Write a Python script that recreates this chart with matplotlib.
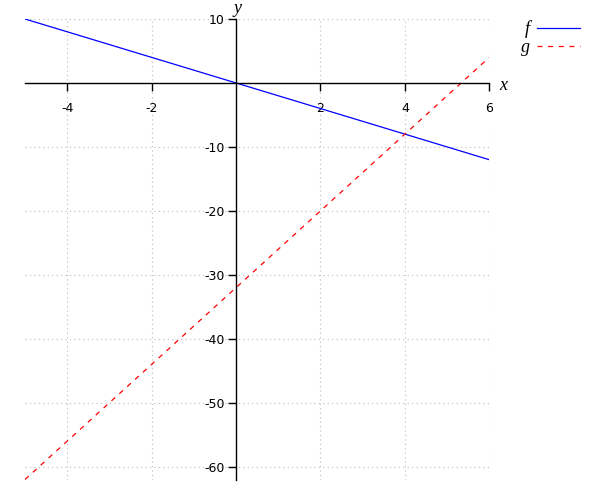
import matplotlib
matplotlib.use("Agg")
import matplotlib.pyplot as plt
from matplotlib.lines import Line2D

x_pts = [-5, 6]
f_vals = [10, -12]
g_vals = [-62, 4]
x_ticks = [-4, -2, 2, 4, 6]
y_ticks = [10, -10, -20, -30, -40, -50, -60]
series_names = ["f", "g"]

W, H = 600, 500
fig = plt.figure(figsize=(6, 5), dpi=100)
left, right, top, bottom = 25, 489.3, 19, 479.5
ax = fig.add_axes([left / W, 1 - bottom / H, (right - left) / W, (bottom - top) / H])

colors = ["#0000ff", "#ff0000"]
dash = (4, 4.5)
ax.plot(x_pts, f_vals, color=colors[0], lw=0.9, label=series_names[0])
ax.plot(x_pts, g_vals, color=colors[1], lw=0.9, dashes=dash, label=series_names[1])

ax.set_xlim(-5, 6)
ax.set_ylim(-62, 10)
ax.spines["left"].set_position(("data", 0))
ax.spines["bottom"].set_position(("data", 0))
ax.spines["top"].set_visible(False)
ax.spines["right"].set_visible(False)
for s in ("left", "bottom"):
    ax.spines[s].set_linewidth(1.0)
    ax.spines[s].set_color("black")
ax.set_xticks(x_ticks)
ax.set_yticks(y_ticks)
ax.set_xticklabels([str(v) for v in x_ticks])
ax.set_yticklabels([str(v) for v in y_ticks])
ax.tick_params(direction="out", length=6, width=1, labelsize=9, colors="black")
ax.tick_params(axis="x", pad=8)
ax.tick_params(axis="y", pad=2)
ax.grid(True, color="#bbbbbb", linestyle=(0, (1, 3)), linewidth=0.8)
ax.set_axisbelow(True)
for sp in ax.spines.values():
    sp.set_zorder(3)

serif = dict(family="Liberation Serif", style="italic", size=13)
fig.text(499 / W, 1 - 85 / H, "x", ha="left", va="center", **serif)
fig.text(237 / W, 1.0, "y", ha="center", va="top", **serif)

# legend drawn manually: label then line sample
rows_y = [29, 47]
styles = [dict(), dict(dashes=dash)]
for name, c, yy, st in zip(series_names, colors, rows_y, styles):
    fig.text(530 / W, 1 - yy / H, name, ha="right", va="center", **serif)
    fig.add_artist(Line2D([537 / W, 580 / W], [1 - (yy - 1) / H, 1 - (yy - 1) / H],
                          transform=fig.transFigure, color=c, lw=0.9, **st))

fig.savefig("out.png", dpi=100)
